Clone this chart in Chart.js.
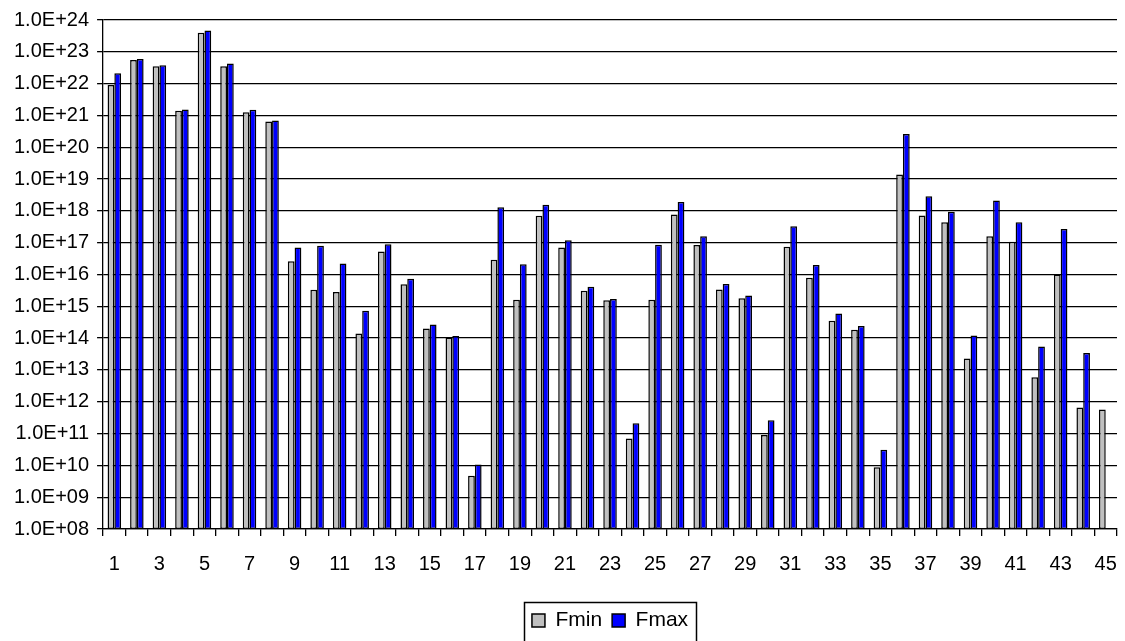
<!DOCTYPE html>
<html>
<head>
<meta charset="utf-8">
<script src="https://cdn.jsdelivr.net/npm/chart.js@4"></script>
<style>
html, body { margin: 0; padding: 0; background: #fff; }
</style>
</head>
<body>
<canvas id="chart" width="1125" height="641"></canvas>
<script>
// categories 1..45
const categories = ['1','2','3','4','5','6','7','8','9','10','11','12','13','14','15',
    '16','17','18','19','20','21','22','23','24','25','26','27','28','29','30',
    '31','32','33','34','35','36','37','38','39','40','41','42','43','44','45'];

// valeurs (echelle log)
const fmin = [9e21, 5.5e22, 3.5e22, 1.4e21, 4.0e23, 3.5e22, 1.27e21, 6.5e20, 2.6e16, 3.3e15,
    2.8e15, 1.4e14, 5.3e16, 4.9e15, 2.0e14, 1.05e14, 4.7e9, 2.9e16, 1.6e15, 7e17,
    7e16, 3.1e15, 1.55e15, 7e10, 1.6e15, 7.7e17, 8.4e16, 3.4e15, 1.8e15, 9e10,
    7.4e16, 7.9e15, 3.5e14, 1.85e14, 8.7e9, 1.4e19, 7.2e17, 4.4e17, 2.3e13, 1.6e17,
    1.07e17, 5.9e12, 1.0e16, 6.6e11, 5.7e11];
const fmax = [2.1e22, 5.9e22, 3.8e22, 1.55e21, 4.7e23, 4.3e22, 1.5e21, 6.9e20, 7e16, 8e16,
    2.2e16, 7.3e14, 9e16, 7.4e15, 2.7e14, 1.17e14, 1.07e10, 1.3e18, 2.1e16, 1.55e18,
    1.2e17, 4.1e15, 1.7e15, 2.1e11, 8.6e16, 1.9e18, 1.58e17, 5e15, 2.2e15, 2.6e11,
    3.3e17, 2e16, 5.9e14, 2.4e14, 3.1e10, 2.6e20, 2.9e18, 9.4e17, 1.2e14, 2.1e18,
    4.4e17, 5.5e13, 2.7e17, 3.4e13, null];

// graduations de l'axe Y
const yTicks = [1e8, 1e9, 1e10, 1e11, 1e12, 1e13, 1e14, 1e15, 1e16,
    1e17, 1e18, 1e19, 1e20, 1e21, 1e22, 1e23, 1e24];
const yTickLabels = ['1.0E+08', '1.0E+09', '1.0E+10', '1.0E+11', '1.0E+12', '1.0E+13',
    '1.0E+14', '1.0E+15', '1.0E+16', '1.0E+17', '1.0E+18', '1.0E+19', '1.0E+20',
    '1.0E+21', '1.0E+22', '1.0E+23', '1.0E+24'];

const font = { family: "'Liberation Sans', Arial, sans-serif", size: 20 };

// cadre autour de la legende
const legendBorder = {
    id: 'legendBorder',
    afterDraw(chart) {
        const boxes = chart.legend.legendHitBoxes;
        if (!boxes || !boxes.length) return;
        const last = boxes[boxes.length - 1];
        const left = boxes[0].left - 8;
        const right = last.left + last.width + 8;
        const top = boxes[0].top - 8;
        const ctx = chart.ctx;
        ctx.save();
        ctx.strokeStyle = '#000';
        ctx.lineWidth = 1.5;
        ctx.strokeRect(Math.round(left) + 0.5, Math.round(top) + 0.5, Math.round(right - left), 60);
        ctx.restore();
    }
};

const ctx = document.getElementById('chart').getContext('2d');
const myChart = new Chart(ctx, {
    type: 'bar',
    data: {
        labels: categories,
        datasets: [
            { label: 'Fmin', data: fmin, backgroundColor: '#C0C0C0', borderColor: '#000',
              borderWidth: 1.5, borderSkipped: false },
            { label: 'Fmax', data: fmax, backgroundColor: '#0000FF', borderColor: '#000',
              borderWidth: 1.5, borderSkipped: false }
        ]
    },
    options: {
        responsive: false,
        animation: false,
        datasets: { bar: { categoryPercentage: 0.6, barPercentage: 1.0 } },
        layout: { padding: { left: 6, right: 8, top: 7, bottom: 0 } },
        plugins: {
            legend: {
                position: 'bottom',
                fullSize: false,
                labels: { boxWidth: 13, boxHeight: 13, padding: 10, color: '#000',
                          font: { family: font.family, size: 21 } }
            },
            tooltip: { enabled: false }
        },
        scales: {
            x: {
                offset: true,
                grid: { display: true, drawOnChartArea: false, drawTicks: true, tickLength: 7,
                        offset: true, color: '#000', lineWidth: 1.3 },
                border: { color: '#000', width: 1.3 },
                ticks: {
                    autoSkip: false, maxRotation: 0, padding: 16, color: '#000', font: font,
                    callback: function (v, i) { return i % 2 === 0 ? categories[i] : ''; }
                },
                afterFit: function (scale) {
                    scale.height += 8;
                    scale.paddingLeft = 0;
                    scale.paddingRight = 0;
                }
            },
            y: {
                type: 'logarithmic',
                min: 1e8,
                max: 1e24,
                afterBuildTicks: function (scale) {
                    scale.ticks = yTicks.map(v => ({ value: v }));
                },
                grid: { color: '#000', lineWidth: 1.3, tickLength: 6 },
                border: { color: '#000', width: 1.3 },
                ticks: {
                    padding: 8, color: '#000', font: font,
                    callback: function (v, i) { return yTickLabels[i]; }
                }
            }
        }
    },
    plugins: [legendBorder]
});
</script>
</body>
</html>
